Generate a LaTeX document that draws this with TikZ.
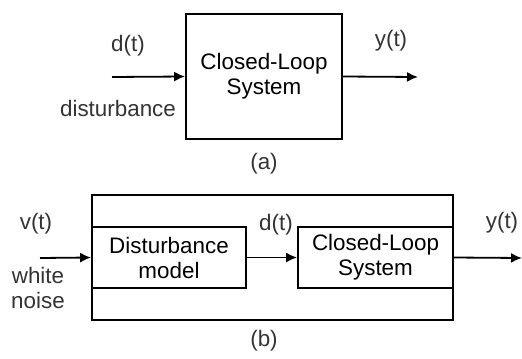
\documentclass[tikz,border=0pt]{standalone}
\usepackage{fontspec}
\setmainfont{Liberation Sans}
\usepackage{tikz}
\usetikzlibrary{arrows.meta}

\begin{document}
\begin{tikzpicture}[x=0.5pt,y=-0.5pt,line width=0.9pt,
	block/.style={draw,rectangle,inner sep=0pt,align=center},
	lbl/.style={inner sep=0pt,align=center,text=black!80},
	>={Latex[length=5.5pt,width=5pt]},
	every node/.style={font=\fontsize{11.2}{12.5}\selectfont}]
	\useasboundingbox (0,0) rectangle (522,358);
	% Vẽ hệ (a)
	\node[block,minimum width=78pt,minimum height=62.5pt] (sysA) at (264,76.5) {Closed-Loop\\System};
	\coordinate (dIn) at (112,77);
	\coordinate (yOutA) at (418,77);
	\draw [->] (dIn) -- (sysA.west);
	\draw [->] (sysA.east) -- (yOutA);
	\node[lbl] (dA) at (128,46) {d(t)};
	\node[lbl] (distA) at (118,108) {disturbance};
	\node[lbl] (yA) at (391,41) {y(t)};
	\node[lbl] (capA) at (264,164) {(a)};
	% Vẽ hệ (b)
	\node[block,minimum width=180.5pt,minimum height=62.5pt] (outer) at (272.5,257.5) {};
	\node[block,minimum width=77pt,minimum height=30.5pt] (dm) at (169,257.5) {Disturbance\\model};
	\node[block,minimum width=77.5pt,minimum height=30.5pt] (sysB) at (375.5,257.5) {Closed-Loop\\System};
	\coordinate (vIn) at (40,258);
	\coordinate (yOutB) at (522,258);
	\draw [->] (vIn) -- (dm.west);
	\draw [->] (dm.east) -- (sysB.west);
	\draw [->] (sysB.east) -- (yOutB);
	\node[lbl] (vB) at (36,224) {v(t)};
	\node[lbl] (wnB) at (38,288) {white\\noise};
	\node[lbl] (dB) at (276,225) {d(t)};
	\node[lbl] (yB) at (502,223) {y(t)};
	\node[lbl] (capB) at (264,341) {(b)};
\end{tikzpicture}
\end{document}
